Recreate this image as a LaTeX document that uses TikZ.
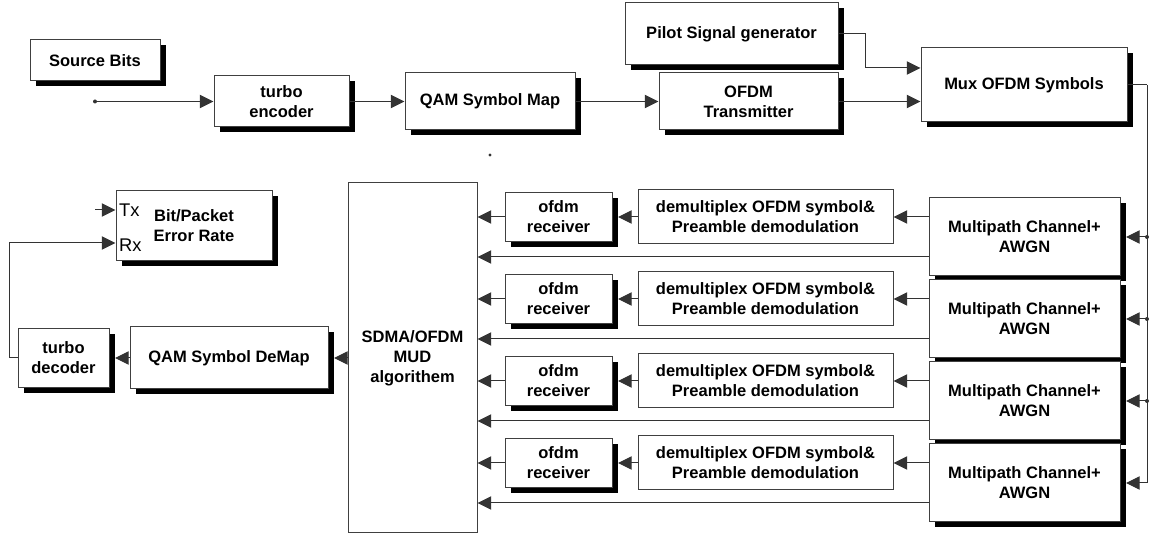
\documentclass[tikz,border=0pt]{standalone}
\usepackage{fontspec}
\setmainfont{Liberation Sans}
\usetikzlibrary{positioning,shadows,arrows.meta,calc}

\begin{document}
\begin{tikzpicture}[x=0.6pt, y=-0.6pt,
         font=\fontsize{9.9}{12}\selectfont\bfseries,
         block/.style = {draw=black!75, line width=0.6pt, fill=white,
         align=center, inner sep=0pt},
         sblock/.style = {block, drop shadow={shadow xshift=3.3pt,
         shadow yshift=-3.3pt, fill=black, opacity=1}},
         wire/.style = {draw=black!80, line width=0.6pt},
         link/.style = {wire, -{Triangle[length=8.2pt,width=8pt]}}
]

         \useasboundingbox (0,0) rectangle (1150,535);

         % transmitter chain
         \node[sblock, minimum width=78pt, minimum height=24.6pt]
            (src) at (95,60.5) {Source Bits};
         \node[sblock, minimum width=81pt, minimum height=30.6pt]
            (tenc) at (281.5,101.5) {turbo\\encoder};
         \node[sblock, minimum width=102pt, minimum height=34.2pt]
            (qam) at (490,101.5) {QAM Symbol Map};
         \node[sblock, minimum width=107.4pt, minimum height=34.2pt]
            (ofdmtx) at (748.5,101.5) {OFDM\\Transmitter};
         \node[sblock, minimum width=127.8pt, minimum height=37.2pt]
            (pilot) at (731.5,34) {Pilot Signal generator};
         \node[sblock, minimum width=123.6pt, minimum height=44.4pt]
            (mux) at (1024,85) {Mux OFDM Symbols};

         % channels
         \node[sblock, minimum width=114.6pt, minimum height=46.8pt]
            (mp1) at (1024.5,237) {Multipath Channel+\\AWGN};
         \node[sblock, minimum width=114.6pt, minimum height=46.8pt,
            below=1.8pt of mp1] (mp2) {Multipath Channel+\\AWGN};
         \node[sblock, minimum width=114.6pt, minimum height=46.8pt,
            below=1.8pt of mp2] (mp3) {Multipath Channel+\\AWGN};
         \node[sblock, minimum width=114.6pt, minimum height=46.8pt,
            below=1.8pt of mp3] (mp4) {Multipath Channel+\\AWGN};

         % demultiplexers
         \node[block, minimum width=153pt, minimum height=32.4pt]
            (demux1) at (765.5,217) {demultiplex OFDM symbol\&\\Preamble demodulation};
         \node[block, minimum width=153pt, minimum height=32.4pt,
            below=16.2pt of demux1] (demux2) {demultiplex OFDM symbol\&\\Preamble demodulation};
         \node[block, minimum width=153pt, minimum height=32.4pt,
            below=16.2pt of demux2] (demux3) {demultiplex OFDM symbol\&\\Preamble demodulation};
         \node[block, minimum width=153pt, minimum height=32.4pt,
            below=16.2pt of demux3] (demux4) {demultiplex OFDM symbol\&\\Preamble demodulation};

         % ofdm receivers
         \node[sblock, minimum width=64.2pt, minimum height=29.4pt]
            (rcv1) at (558.5,217) {ofdm\\receiver};
         \node[sblock, minimum width=64.2pt, minimum height=29.4pt,
            below=19.2pt of rcv1] (rcv2) {ofdm\\receiver};
         \node[sblock, minimum width=64.2pt, minimum height=29.4pt,
            below=19.2pt of rcv2] (rcv3) {ofdm\\receiver};
         \node[sblock, minimum width=64.2pt, minimum height=29.4pt,
            below=19.2pt of rcv3] (rcv4) {ofdm\\receiver};

         % receiver back end
         \node[block, minimum width=77.4pt, minimum height=210pt]
            (sdma) at (412.5,358) {SDMA/OFDM\\MUD\\algorithem};
         \node[sblock, minimum width=118.8pt, minimum height=37.2pt]
            (demap) at (229,358) {QAM Symbol DeMap};
         \node[sblock, minimum width=54.6pt, minimum height=35.4pt]
            (tdec) at (63.5,358) {turbo\\decoder};
         \node[sblock, minimum width=93.6pt, minimum height=42pt]
            (ber) at (194,226) {Bit/Packet\\Error Rate};
         \node[anchor=west, inner sep=0pt, font=\fontsize{11}{12}\selectfont]
            (txlbl) at ([xshift=2pt,yshift=9.6pt]ber.west) {Tx};
         \node[anchor=west, inner sep=0pt, font=\fontsize{11}{12}\selectfont]
            (rxlbl) at ([xshift=2pt,yshift=-11.5pt]ber.west) {Rx};

         % transmit connections
         \coordinate (srcin) at (95,101.5);
         \fill[black!80] (srcin) circle (1.2pt);
         \draw[link] (srcin) -- (tenc);
         \draw[link] (tenc) -- (qam);
         \draw[link] (qam) -- (ofdmtx);
         \draw[link] (ofdmtx) -- (ofdmtx -| mux.west);
         \draw[link] (pilot.east) -- ++(27,0) |- ([yshift=10.2pt]mux.west);
         \fill[black!80] (490,155) circle (1pt);

         % bus to the channels
         \coordinate (bus) at (1147,85);
         \draw[wire] (mux.east) -- (bus);
         \draw[link] (bus) |- ([xshift=3.3pt]mp4.east);
         \draw[link] (bus |- mp1) -- ([xshift=3.3pt]mp1.east);
         \draw[link] (bus |- mp2) -- ([xshift=3.3pt]mp2.east);
         \draw[link] (bus |- mp3) -- ([xshift=3.3pt]mp3.east);
         \fill[black!80] (bus |- mp1) circle (1.2pt);
         \fill[black!80] (bus |- mp2) circle (1.2pt);
         \fill[black!80] (bus |- mp3) circle (1.2pt);

         % receive rows
         \draw[link] (mp1.west |- demux1) -- (demux1);
         \draw[link] (demux1) -- ([xshift=3.3pt]rcv1.east);
         \draw[link] (rcv1) -- (rcv1 -| sdma.east);
         \draw[link] ([yshift=-12pt]mp1.west) -- ([yshift=-12pt]mp1.west -| sdma.east);

         \draw[link] (mp2.west |- demux2) -- (demux2);
         \draw[link] (demux2) -- ([xshift=3.3pt]rcv2.east);
         \draw[link] (rcv2) -- (rcv2 -| sdma.east);
         \draw[link] ([yshift=-12pt]mp2.west) -- ([yshift=-12pt]mp2.west -| sdma.east);

         \draw[link] (mp3.west |- demux3) -- (demux3);
         \draw[link] (demux3) -- ([xshift=3.3pt]rcv3.east);
         \draw[link] (rcv3) -- (rcv3 -| sdma.east);
         \draw[link] ([yshift=-12pt]mp3.west) -- ([yshift=-12pt]mp3.west -| sdma.east);

         \draw[link] (mp4.west |- demux4) -- (demux4);
         \draw[link] (demux4) -- ([xshift=3.3pt]rcv4.east);
         \draw[link] (rcv4) -- (rcv4 -| sdma.east);
         \draw[link] ([yshift=-12pt]mp4.west) -- ([yshift=-12pt]mp4.west -| sdma.east);

         % decoding and error rate
         \draw[link] (sdma.west |- demap) -- ([xshift=3.3pt]demap.east);
         \draw[link] (demap) -- ([xshift=3.3pt]tdec.east);
         \draw[link] (tdec.west) -- ++(-8,0) |- ([yshift=-10.2pt]ber.west);
         \coordinate (txin) at (95,210);
         \draw[link] (txin) -- (txin -| ber.west);

\end{tikzpicture}
\end{document}
